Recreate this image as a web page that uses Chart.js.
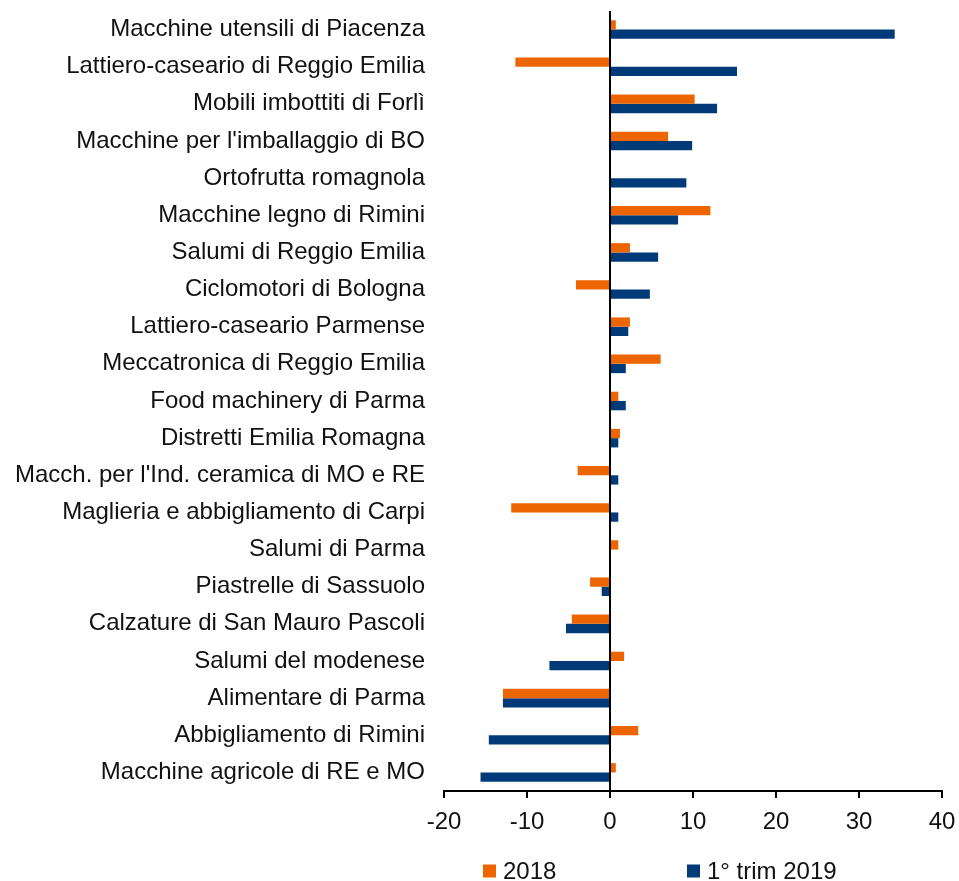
<!DOCTYPE html>
<html>
<head>
<meta charset="utf-8">
<script src="https://cdn.jsdelivr.net/npm/chart.js@4.4.1/dist/chart.umd.min.js"></script>
<style>
  html, body { margin: 0; padding: 0; background: #fff; }
  #wrap { width: 959px; height: 881px; }
</style>
</head>
<body>
<div id="wrap"><canvas id="distChart" width="959" height="881"></canvas></div>
<script>
const categories = [
    'Macchine utensili di Piacenza',
    'Lattiero-caseario di Reggio Emilia',
    'Mobili imbottiti di Forlì',
    "Macchine per l'imballaggio di BO",
    'Ortofrutta romagnola',
    'Macchine legno di Rimini',
    'Salumi di Reggio Emilia',
    'Ciclomotori di Bologna',
    'Lattiero-caseario Parmense',
    'Meccatronica di Reggio Emilia',
    'Food machinery di Parma',
    'Distretti Emilia Romagna',
    "Macch. per l'Ind. ceramica di MO e RE",
    'Maglieria e abbigliamento di Carpi',
    'Salumi di Parma',
    'Piastrelle di Sassuolo',
    'Calzature di San Mauro Pascoli',
    'Salumi del modenese',
    'Alimentare di Parma',
    'Abbigliamento di Rimini',
    'Macchine agricole di RE e MO'
];

// variazioni % 2018
const values2018 = [0.7, -11.4, 10.2, 7.0, 0, 12.1, 2.4, -4.1, 2.4, 6.1, 1.0, 1.2, -3.9, -11.9, 1.0, -2.4, -4.6, 1.7, -12.9, 3.4, 0.7];
// variazioni % 1° trimestre 2019
const valuesQ1 = [34.3, 15.3, 12.9, 9.9, 9.2, 8.2, 5.8, 4.8, 2.2, 1.9, 1.9, 1.0, 1.0, 1.0, 0.1, -1.0, -5.3, -7.3, -12.9, -14.6, -15.6];

const xTicks = [-20, -10, 0, 10, 20, 30, 40];
const seriesLabels = ['2018', '1° trim 2019'];
const seriesColors = ['#EC6500', '#003A78'];

const FONT = "'Liberation Sans', Arial, sans-serif";

// legenda disegnata a mano sotto al grafico
const legendPlugin = {
    id: 'bottomLegend',
    afterDraw(chart, args, opts) {
        const ctx = chart.ctx;
        ctx.save();
        ctx.font = '24px ' + FONT;
        ctx.textBaseline = 'middle';
        chart.data.datasets.forEach((ds, i) => {
            const x = opts.positions[i];
            ctx.fillStyle = ds.backgroundColor;
            ctx.fillRect(x, opts.y - 6.5, 13, 13);
            ctx.fillStyle = '#111';
            ctx.fillText(ds.label, x + 20, opts.y + 1);
        });
        ctx.restore();
    }
};

const ctx = document.getElementById('distChart').getContext('2d');
new Chart(ctx, {
    type: 'bar',
    data: {
        labels: categories,
        datasets: [
            {
                label: seriesLabels[0],
                data: values2018,
                backgroundColor: seriesColors[0],
                categoryPercentage: 0.5,
                barPercentage: 1
            },
            {
                label: seriesLabels[1],
                data: valuesQ1,
                backgroundColor: seriesColors[1],
                categoryPercentage: 0.5,
                barPercentage: 1
            }
        ]
    },
    options: {
        indexAxis: 'y',
        responsive: false,
        animation: false,
        layout: {
            padding: { top: 11, right: 17, bottom: 40, left: 0 }
        },
        plugins: {
            legend: { display: false },
            tooltip: { enabled: false },
            bottomLegend: { positions: [483, 687], y: 871 }
        },
        scales: {
            x: {
                min: -20,
                max: 40,
                afterBuildTicks: scale => {
                    scale.ticks = xTicks.map(v => ({ value: v }));
                },
                afterFit: scale => {
                    scale.height = 50;
                    scale.paddingLeft = 0;
                    scale.paddingRight = 0;
                },
                border: { display: true, color: '#000', width: 2 },
                grid: {
                    drawOnChartArea: true,
                    color: c => (c.tick && c.tick.value === 0 ? '#000' : 'rgba(0,0,0,0)'),
                    lineWidth: 2,
                    tickColor: '#000',
                    tickLength: 7
                },
                ticks: {
                    color: '#111',
                    padding: 10,
                    font: { family: FONT, size: 24 }
                }
            },
            y: {
                afterFit: scale => {
                    scale.width = 444;
                    scale.paddingTop = 0;
                    scale.paddingBottom = 0;
                },
                border: { display: false },
                grid: { display: false },
                ticks: {
                    color: '#111',
                    padding: 11,
                    autoSkip: false,
                    font: { family: FONT, size: 24 }
                }
            }
        }
    },
    plugins: [legendPlugin]
});
</script>
</body>
</html>
